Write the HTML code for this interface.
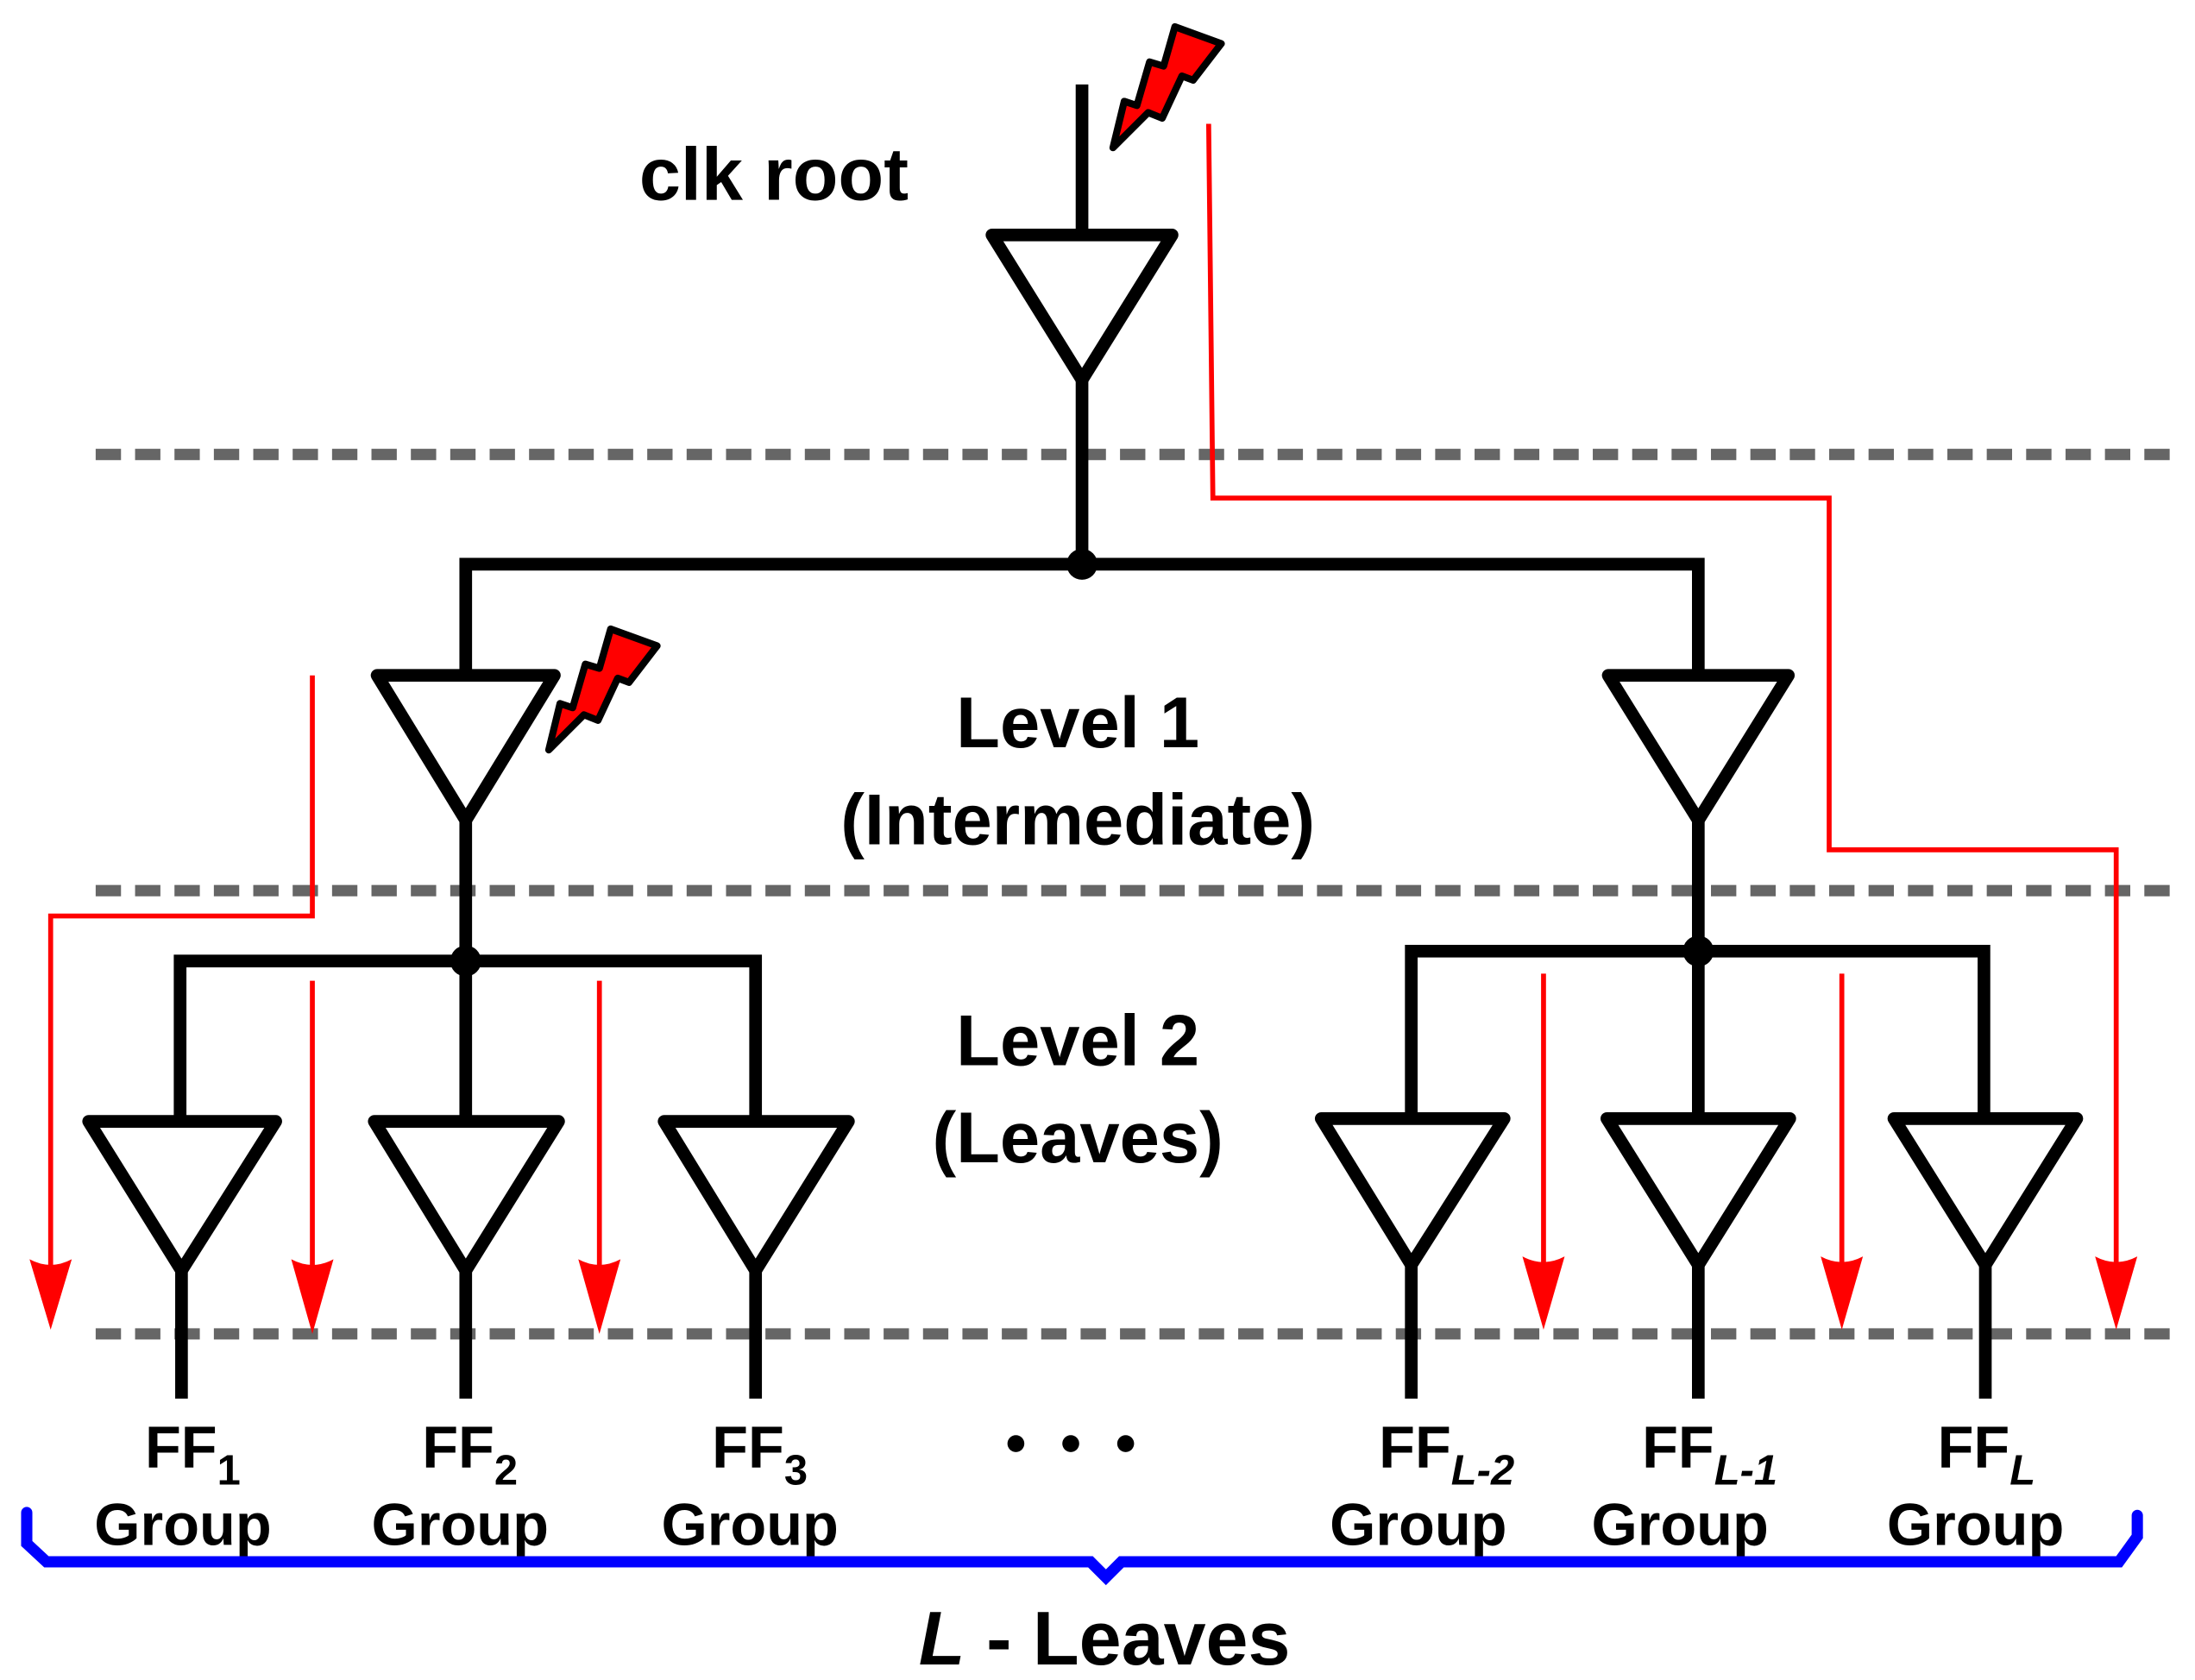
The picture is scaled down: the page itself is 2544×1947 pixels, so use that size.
<!DOCTYPE html>
<html><head><meta charset="utf-8"><style>html,body{margin:0;padding:0;background:#fff}svg{display:block}</style></head>
<body>
<svg width="2544" height="1947" viewBox="0 0 1560 1194" preserveAspectRatio="none" xmlns="http://www.w3.org/2000/svg" font-family="Liberation Sans, Arial, sans-serif" font-weight="bold">
<defs>
<marker id="ah" markerWidth="34" markerHeight="52" refX="15" refY="50" orient="0" markerUnits="userSpaceOnUse" viewBox="0 0 34 52">
<path d="M0 0 Q15 6 30 0 L15 50 Z" fill="#f00"/>
</marker>
</defs>
<g stroke="#666" stroke-width="8" stroke-dasharray="18 10">
<line x1="68" y1="323" x2="1548" y2="323"/>
<line x1="68" y1="633" x2="1548" y2="633"/>
<line x1="68" y1="948" x2="1548" y2="948"/>
</g>
<g stroke="#000" stroke-width="9" fill="none" stroke-linejoin="round">
<line x1="769" y1="60" x2="769" y2="167"/>
<path d="M705 167 L833 167 L769 270 Z" fill="#fff"/>
<line x1="769" y1="270" x2="769" y2="401"/>
<path d="M331 480 L331 401 L1207 401 L1207 480" stroke-linejoin="miter"/>
<path d="M268 480 L394 480 L331 583 Z" fill="#fff"/>
<path d="M1143 480 L1271 480 L1207 583 Z" fill="#fff"/>
<line x1="331" y1="583" x2="331" y2="797"/>
<line x1="1207" y1="583" x2="1207" y2="793"/>
<path d="M128 797 L128 683 L537 683 L537 797" stroke-linejoin="miter"/>
<path d="M1003 793 L1003 676 L1410 676 L1410 793" stroke-linejoin="miter"/>
<path d="M63 797 L196 797 L129 903 Z" fill="#fff"/>
<path d="M266 797 L397 797 L331 903 Z" fill="#fff"/>
<path d="M472 797 L603 797 L537 903 Z" fill="#fff"/>
<path d="M939 795 L1069 795 L1003 899 Z" fill="#fff"/>
<path d="M1142 795 L1272 795 L1207 899 Z" fill="#fff"/>
<path d="M1346 795 L1476 795 L1411 899 Z" fill="#fff"/>
<line x1="129" y1="903" x2="129" y2="994"/>
<line x1="331" y1="903" x2="331" y2="994"/>
<line x1="537" y1="903" x2="537" y2="994"/>
<line x1="1003" y1="899" x2="1003" y2="994"/>
<line x1="1207" y1="899" x2="1207" y2="994"/>
<line x1="1411" y1="899" x2="1411" y2="994"/>
</g>
<circle cx="769" cy="401" r="11"/>
<circle cx="331" cy="683" r="11"/>
<circle cx="1207" cy="676" r="11"/>
<g stroke="#f00" stroke-width="3.5" fill="none">
<path d="M859 88 L862 354 L1300 354 L1300 604 L1504 604 L1504 930"/>
<path d="M222 480 L222 651 L36 651 L36 930"/>
<path d="M222 697 L222 930"/>
<path d="M426 697 L426 930"/>
<path d="M1097 692 L1097 930"/>
<path d="M1309 692 L1309 930"/>
</g>
<g fill="#f00">
<path d="M21 895 Q36 903 51 895 L36 945 Z"/>
<path d="M207 895 Q222 903 237 895 L222 948 Z"/>
<path d="M411 895 Q426 903 441 895 L426 948 Z"/>
<path d="M1082 893 Q1097 901 1112 893 L1097 945 Z"/>
<path d="M1294 893 Q1309 901 1324 893 L1309 945 Z"/>
<path d="M1489 893 Q1504 901 1519 893 L1504 945 Z"/>
</g>
<g fill="#f00" stroke="#000" stroke-width="5" stroke-linejoin="round">
<path d="M791 105 L799 72 L808 75 L817 44 L827 47 L835 19 L868 31 L848 57 L840 54 L826 84 L816 80 Z"/>
<path d="M791 105 L799 72 L808 75 L817 44 L827 47 L835 19 L868 31 L848 57 L840 54 L826 84 L816 80 Z" transform="translate(-401 428)"/>
</g>
<text x="550" y="142" font-size="53" text-anchor="middle">clk root</text>
<text x="766" y="531" font-size="51" text-anchor="middle">Level 1</text>
<text x="766" y="600" font-size="51" text-anchor="middle">(Intermediate)</text>
<text x="766" y="757" font-size="51" text-anchor="middle">Level 2</text>
<text x="766" y="826" font-size="51" text-anchor="middle">(Leaves)</text>
<g font-size="42">
<text x="103" y="1043">FF<tspan font-size="30" dy="12">1</tspan></text>
<text x="300" y="1043">FF<tspan font-size="30" dy="12">2</tspan></text>
<text x="506" y="1043">FF<tspan font-size="30" dy="12">3</tspan></text>
<text x="980" y="1043">FF<tspan font-size="30" dy="12" font-style="italic">L-2</tspan></text>
<text x="1167" y="1043">FF<tspan font-size="30" dy="12" font-style="italic">L-1</tspan></text>
<text x="1377" y="1043">FF<tspan font-size="30" dy="12" font-style="italic">L</tspan></text>
<g text-anchor="middle">
<text x="130" y="1098">Group</text>
<text x="327" y="1098">Group</text>
<text x="533" y="1098">Group</text>
<text x="1008" y="1098">Group</text>
<text x="1194" y="1098">Group</text>
<text x="1404" y="1098">Group</text>
</g>
</g>
<circle cx="722" cy="1026" r="6"/><circle cx="761" cy="1026" r="6"/><circle cx="800" cy="1026" r="6"/>
<path d="M19 1075 L19 1097 L33 1110 L775 1110 L786 1121 L797 1110 L1506 1110 L1519 1092 L1519 1077" stroke="#00f" stroke-width="8" fill="none" stroke-linejoin="miter" stroke-linecap="round"/>
<text x="785" y="1183" font-size="54" text-anchor="middle"><tspan font-style="italic">L</tspan> - Leaves</text>
</svg>
</body></html>
